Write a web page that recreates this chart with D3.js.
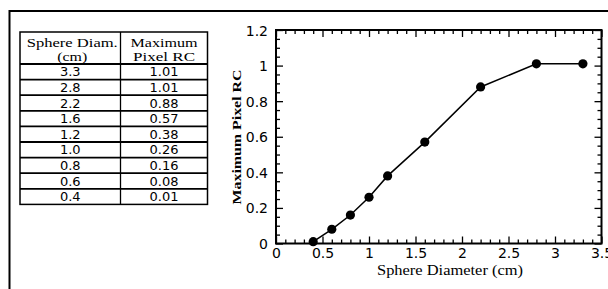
<!DOCTYPE html>
<html>
<head>
<meta charset="utf-8">
<script src="https://cdn.jsdelivr.net/npm/d3@7/dist/d3.min.js"></script>
<style>
  html, body { margin: 0; padding: 0; background: #fff; }
  svg { display: block; }
</style>
</head>
<body>
<svg id="chart" width="608" height="289"></svg>
<script>
// ---- Data ----
const diameters = [3.3, 2.8, 2.2, 1.6, 1.2, 1.0, 0.8, 0.6, 0.4];
const maxPixelRC = [1.01, 1.01, 0.88, 0.57, 0.38, 0.26, 0.16, 0.08, 0.01];
const headerCol1 = ["Sphere Diam.", "(cm)"];
const headerCol2 = ["Maximum", "Pixel RC"];
const xTicks = [0, 0.5, 1, 1.5, 2, 2.5, 3, 3.5];
const yTicks = [0, 0.2, 0.4, 0.6, 0.8, 1, 1.2];
const xTitle = "Sphere Diameter (cm)";
const yTitle = "Maximum Pixel RC";

const svg = d3.select("#chart");
const serif = "'Liberation Serif', 'DejaVu Serif', serif";
const sans = "'DejaVu Sans', 'Liberation Sans', sans-serif";

// ---- Outer frame (top and left only) ----
svg.append("line").attr("x1", 9.5).attr("x2", 608).attr("y1", 11).attr("y2", 11)
  .attr("stroke", "#000").attr("stroke-width", 2);
svg.append("line").attr("x1", 9.5).attr("x2", 9.5).attr("y1", 10).attr("y2", 289)
  .attr("stroke", "#000").attr("stroke-width", 2);

// ---- Table ----
const tX0 = 20, tX1 = 120.5, tX2 = 207.5, tY0 = 32, tHead = 64, rowH = 15.6;
const tY1 = tHead + rowH * diameters.length;
const tbl = svg.append("g");
tbl.append("rect").attr("x", tX0).attr("y", tY0).attr("width", tX2 - tX0).attr("height", tY1 - tY0)
  .attr("fill", "none").attr("stroke", "#000").attr("stroke-width", 1.5);
tbl.append("line").attr("x1", tX1).attr("x2", tX1).attr("y1", tY0).attr("y2", tY1)
  .attr("stroke", "#000").attr("stroke-width", 1.3);
tbl.selectAll("line.row").data(d3.range(diameters.length)).enter().append("line")
  .attr("class", "row")
  .attr("x1", tX0).attr("x2", tX2)
  .attr("y1", i => tHead + i * rowH).attr("y2", i => tHead + i * rowH)
  .attr("stroke", "#000").attr("stroke-width", 1.8);

const c1 = (tX0 + tX1) / 2, c2 = (tX1 + tX2) / 2;
const headWidths1 = [91, 30], headWidths2 = [67, 62];
const headY = [46.5, 60.5];
headerCol1.forEach((t, i) => {
  tbl.append("text").attr("x", c1 + 2).attr("y", headY[i]).attr("text-anchor", "middle")
    .attr("font-family", serif).attr("font-size", 12.5)
    .attr("textLength", headWidths1[i]).attr("lengthAdjust", "spacingAndGlyphs").text(t);
});
headerCol2.forEach((t, i) => {
  tbl.append("text").attr("x", c2).attr("y", headY[i]).attr("text-anchor", "middle")
    .attr("font-family", serif).attr("font-size", 12.5)
    .attr("textLength", headWidths2[i]).attr("lengthAdjust", "spacingAndGlyphs").text(t);
});
const f1 = d3.format(".1f"), f2 = d3.format(".2f");
diameters.forEach((d, i) => {
  const yb = tHead + i * rowH + 12.3;
  tbl.append("text").attr("x", c1).attr("y", yb).attr("text-anchor", "middle")
    .attr("font-family", sans).attr("font-size", 13).text(f1(d));
  tbl.append("text").attr("x", c2).attr("y", yb).attr("text-anchor", "middle")
    .attr("font-family", sans).attr("font-size", 13).text(f2(maxPixelRC[i]));
});

// ---- Chart ----
const x = d3.scaleLinear().domain([0, 3.5]).range([276, 601.5]);
const y = d3.scaleLinear().domain([0, 1.2]).range([243.5, 30]);

const g = svg.append("g");
const xMinor = d3.range(0, 3.5001, 0.1).map(v => +v.toFixed(2));
const yMinor = d3.range(0, 1.2001, 0.05).map(v => +v.toFixed(3));
const isMajX = v => Math.abs(v / 0.5 - Math.round(v / 0.5)) < 1e-6;
const isMajY = v => Math.abs(v / 0.2 - Math.round(v / 0.2)) < 1e-6;

// bottom ticks (inward)
g.append("g").attr("transform", `translate(0,${y(0)})`)
  .call(d3.axisBottom(x).tickValues(xMinor).tickSizeInner(0).tickSizeOuter(0).tickFormat(""))
  .call(s => s.select(".domain").remove())
  .call(s => s.selectAll(".tick line").attr("y2", d => isMajX(d) ? -7 : -4).attr("stroke-width", 1.3));
// top ticks
g.append("g").attr("transform", `translate(0,${y(1.2)})`)
  .call(d3.axisTop(x).tickValues(xMinor).tickSizeInner(0).tickSizeOuter(0).tickFormat(""))
  .call(s => s.select(".domain").remove())
  .call(s => s.selectAll(".tick line").attr("y2", d => isMajX(d) ? 7 : 4).attr("stroke-width", 1.3));
// left ticks
g.append("g").attr("transform", `translate(${x(0)},0)`)
  .call(d3.axisLeft(y).tickValues(yMinor).tickSizeInner(0).tickSizeOuter(0).tickFormat(""))
  .call(s => s.select(".domain").remove())
  .call(s => s.selectAll(".tick line").attr("x2", d => isMajY(d) ? 7 : 4).attr("stroke-width", 1.3));
// right ticks
g.append("g").attr("transform", `translate(${x(3.5)},0)`)
  .call(d3.axisRight(y).tickValues(yMinor).tickSizeInner(0).tickSizeOuter(0).tickFormat(""))
  .call(s => s.select(".domain").remove())
  .call(s => s.selectAll(".tick line").attr("x2", d => isMajY(d) ? -7 : -4).attr("stroke-width", 1.3));

// labels
g.append("g").attr("transform", `translate(0,${y(0)})`)
  .call(d3.axisBottom(x).tickValues(xTicks).tickSize(0).tickPadding(0).tickFormat(d3.format("")))
  .call(s => s.select(".domain").remove())
  .call(s => s.selectAll(".tick text").attr("y", 14.5).attr("dy", 0)
    .attr("font-family", sans).attr("font-size", 14).attr("fill", "#000"));
g.append("g").attr("transform", `translate(${x(0)},0)`)
  .call(d3.axisLeft(y).tickValues(yTicks).tickSize(0).tickPadding(0).tickFormat(d3.format("")))
  .call(s => s.select(".domain").remove())
  .call(s => s.selectAll(".tick text").attr("x", -8).attr("dy", "0.36em")
    .attr("font-family", sans).attr("font-size", 14).attr("fill", "#000"));

// frame
g.append("rect").attr("x", x(0)).attr("y", y(1.2)).attr("width", x(3.5) - x(0)).attr("height", y(0) - y(1.2))
  .attr("fill", "none").attr("stroke", "#000").attr("stroke-width", 2);

// series
const pts = diameters.map((d, i) => [d, maxPixelRC[i]]).sort((a, b) => a[0] - b[0]);
g.append("path").datum(pts)
  .attr("d", d3.line().x(d => x(d[0])).y(d => y(d[1])))
  .attr("fill", "none").attr("stroke", "#000").attr("stroke-width", 1.5);
g.selectAll("circle").data(pts).enter().append("circle")
  .attr("cx", d => x(d[0])).attr("cy", d => y(d[1])).attr("r", 4.6).attr("fill", "#000");

// titles
svg.append("text").attr("x", 450).attr("y", 275).attr("text-anchor", "middle")
  .attr("font-family", serif).attr("font-size", 14)
  .attr("textLength", 146).attr("lengthAdjust", "spacingAndGlyphs").text(xTitle);
svg.append("text").attr("transform", "translate(241,137) rotate(-90)").attr("text-anchor", "middle")
  .attr("font-family", serif).attr("font-size", 13).attr("font-weight", "bold")
  .attr("textLength", 135).attr("lengthAdjust", "spacingAndGlyphs").text(yTitle);
</script>
</body>
</html>
